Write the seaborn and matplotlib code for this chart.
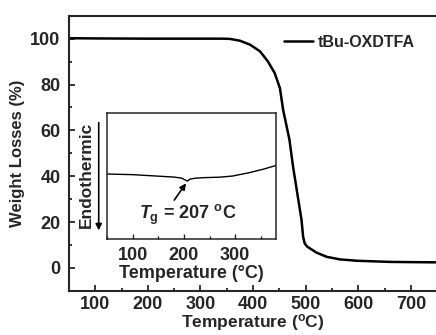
import numpy as np
import pandas as pd
import matplotlib
matplotlib.use("Agg")
import matplotlib.pyplot as plt
import seaborn as sns
from matplotlib.ticker import MultipleLocator

# TGA curve
tga_temp = [50, 100, 200, 300, 340, 356, 375, 394, 413, 428, 441, 451, 457,
            469, 476, 486, 492, 495, 498, 503, 508, 520, 540, 565, 597, 622,
            660, 700, 750]
tga_weight = [100.2, 100.1, 100.0, 100.0, 100.0, 99.9, 99.1, 97.4, 94.5, 90.1,
              85.0, 78.4, 69.0, 56.0, 44.0, 29.6, 20.9, 13.6, 10.7, 9.2, 8.5,
              6.7, 4.8, 3.7, 3.1, 2.9, 2.6, 2.5, 2.4]

# DSC inset curve (arbitrary units)
dsc_temp = [50, 100, 146, 180, 195, 204, 207, 211, 220, 237, 270, 295, 328, 354, 380]
dsc_heat = [0.512, 0.507, 0.496, 0.488, 0.480, 0.462, 0.456, 0.470, 0.478, 0.483,
            0.487, 0.496, 0.523, 0.549, 0.580]

main_ticks = [100, 200, 300, 400, 500, 600, 700]
y_ticks = [0, 20, 40, 60, 80, 100]
inset_ticks = [100, 200, 300]

sns.set_style("ticks")
plt.rcParams['font.family'] = ['Liberation Sans', 'DejaVu Sans']
plt.rcParams['font.weight'] = 'bold'
plt.rcParams['axes.labelweight'] = 'bold'
plt.rcParams['mathtext.fontset'] = 'custom'
plt.rcParams['mathtext.rm'] = 'Liberation Sans:bold'
plt.rcParams['mathtext.it'] = 'Liberation Sans:italic:bold'
plt.rcParams['mathtext.bf'] = 'Liberation Sans:bold'

tga = pd.DataFrame({"T": tga_temp, "W": tga_weight})
dsc = pd.DataFrame({"T": dsc_temp, "H": dsc_heat})

fig = plt.figure(figsize=(4.36, 3.35), dpi=100)
ax = fig.add_axes([0.158, 0.132, 0.845, 0.821])
sns.lineplot(data=tga, x="T", y="W", ax=ax, color="black", lw=1.8,
             label="tBu-OXDTFA")
ax.set_xlim(50, 750)
ax.set_ylim(-10, 110)
ax.set_xticks(main_ticks)
ax.set_yticks(y_ticks)
ax.xaxis.set_minor_locator(MultipleLocator(50))
ax.yaxis.set_minor_locator(MultipleLocator(10))
ax.tick_params(which="both", direction="in", width=1.3, labelsize=13)
ax.tick_params(which="major", length=4.5)
ax.tick_params(which="minor", length=2.5)
ax.tick_params(axis="x", pad=4)
ax.tick_params(axis="y", pad=6)
ax.set_xlabel(r"Temperature ($^{\rm o}$C)", fontsize=12.5, labelpad=-1)
ax.set_ylabel("Weight Losses (%)", fontsize=12, labelpad=4)
for s in ax.spines.values():
    s.set_linewidth(1.5)
ax.legend(loc="center left", frameon=False, fontsize=11.5, handlelength=1.8,
          handletextpad=0.35, borderpad=0, borderaxespad=0,
          bbox_to_anchor=(0.651, 0.874), bbox_transform=fig.transFigure)

# inset
ins = fig.add_axes([0.246, 0.288, 0.387, 0.376])
sns.lineplot(data=dsc, x="T", y="H", ax=ins, color="black", lw=1.0)
ins.set_xlim(50, 380)
ins.set_ylim(0, 1)
ins.set_xticks(inset_ticks)
ins.xaxis.set_minor_locator(MultipleLocator(50))
ins.set_yticks([])
ins.tick_params(which="both", direction="in", width=1.0, labelsize=13, pad=6)
ins.tick_params(which="major", length=3.5)
ins.tick_params(which="minor", length=2)
ins.set_xlabel("Temperature (°C)", fontsize=13, labelpad=1)
ins.set_ylabel("")
for s in ins.spines.values():
    s.set_linewidth(1.1)
ins.annotate("", xy=(204, 0.438), xytext=(181, 0.305),
             arrowprops=dict(arrowstyle="-|>", color="black", lw=1.2,
                             mutation_scale=9, shrinkA=0, shrinkB=0))
ins.text(207, 0.19, r"$\mathit{T}_{\rm g}$ = 207 $^{\rm o}$C", fontsize=13,
         ha="center", va="center")

fig.text(0.197, 0.478, "Endothermic", rotation=90, fontsize=12.5,
         ha="center", va="center")
fig.add_artist(matplotlib.patches.FancyArrowPatch(
    (0.2264, 0.642), (0.2264, 0.304), transform=fig.transFigure,
    arrowstyle="-|>", mutation_scale=9, color="black", lw=1.2))

fig.savefig("out.png", dpi=100)
